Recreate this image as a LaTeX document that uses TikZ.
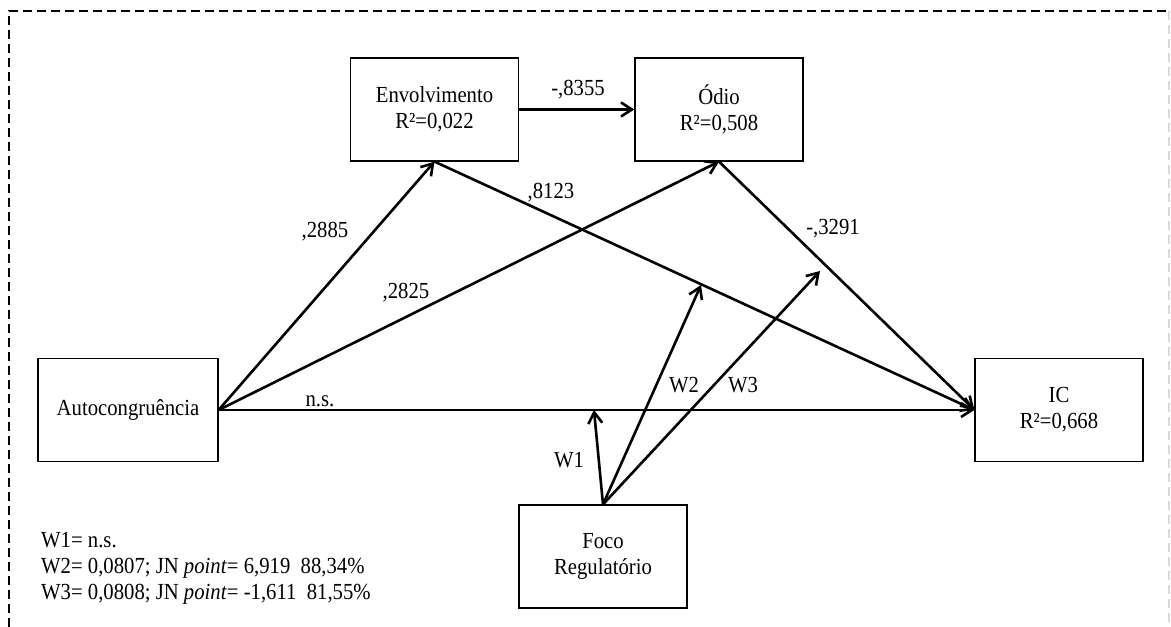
\documentclass[tikz,border=0pt]{standalone}
\usepackage{fontspec}
\setmainfont{Liberation Serif}[FakeStretch=0.9]
\usetikzlibrary{arrows.meta,positioning}

\begin{document}
\begin{tikzpicture}[x=1pt,y=-1pt,>={Straight Barb[length=11pt,width=14pt]},
  font=\fontsize{23}{26}\selectfont,
  box/.style={draw,line width=1.2pt,minimum width=168pt,minimum height=103pt,align=center,inner sep=2pt},
  link/.style={->,line width=2.6pt},
  coef/.style={inner sep=1pt}]
  \useasboundingbox (0,0) rectangle (1171,627);
  % dashed frame (right side faint, no bottom)
  \draw[line width=2pt,dash pattern=on 9pt off 5pt] (9,627) -- (9,11) -- (1169,11);
  \draw[line width=2pt,black!15,dash pattern=on 9pt off 5pt] (1169,11) -- (1169,627);
  % constructs
  \node[box] (env) at (434.5,109.5) {Envolvimento\\R²=0,022};
  \node[box] (odio) at (719,109.5) {Ódio\\R²=0,508};
  \node[box,minimum width=180pt] (auto) at (128,410) {Autocongruência};
  \node[box] (ic) at (1059,410) {IC\\R²=0,668};
  \node[box] (foco) at (603,556.5) {Foco\\Regulatório};
  % paths
  \draw[link] (auto.east) -- (env.south);
  \draw[link] (auto.east) -- (odio.south);
  \draw[link] (auto.east) -- (ic.west);
  \draw[link] (env.east) -- (odio.west);
  \draw[link] (env.south) -- (ic.west);
  \draw[link] (odio.south) -- (ic.west);
  % moderation by Foco Regulatorio
  \coordinate (w1) at (594,410);
  \coordinate (w2) at (701,285);
  \coordinate (w3) at (820,271);
  \draw[link] (foco.north) -- (w1);
  \draw[link] (foco.north) -- (w2);
  \draw[link] (foco.north) -- (w3);
  % coefficients
  \node[coef] (c8355) at (578,90) {-,8355};
  \node[coef] (c2885) at (325,232) {,2885};
  \node[coef] (c2825) at (406,293) {,2825};
  \node[coef] (c8123) at (551,193) {,8123};
  \node[coef] (c3291) at (833,229) {-,3291};
  \node[coef] (cns) at (320,401) {n.s.};
  \node[coef] (lw1) at (569,460) {W1};
  \node[coef] (lw2) at (684,385) {W2};
  \node[coef] (lw3) at (743,385) {W3};
  % notes
  \node[anchor=west,align=left,inner sep=0pt] (notes) at (41,568)
    {W1= n.s.\\W2= 0,0807; JN \textit{point}= 6,919\hspace{0.45em}88,34\%\\W3= 0,0808; JN \textit{point}= -1,611\hspace{0.45em}81,55\%};
\end{tikzpicture}
\end{document}
